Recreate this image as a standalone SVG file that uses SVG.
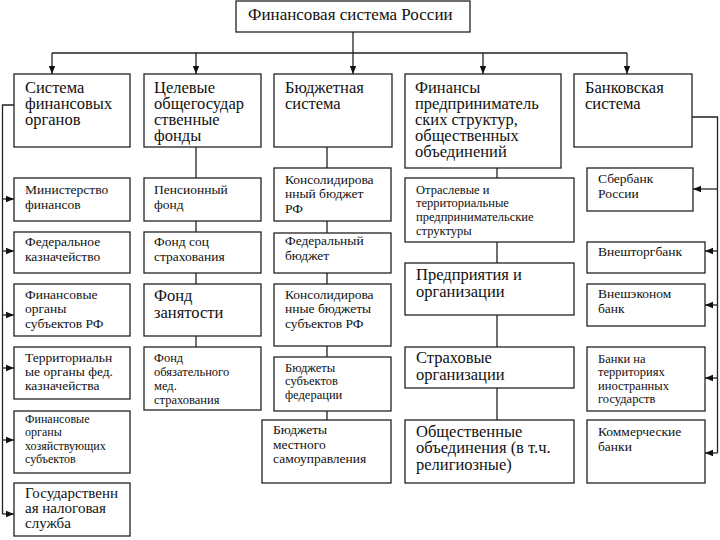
<svg xmlns="http://www.w3.org/2000/svg" width="720" height="540" viewBox="0 0 720 540">
<defs>
<marker id="ah" viewBox="0 0 10 10" refX="10" refY="5" markerWidth="8" markerHeight="8" markerUnits="userSpaceOnUse" orient="auto">
<path d="M0,1 L10,5 L0,9 Z" fill="#111"/>
</marker>
</defs>
<rect width="720" height="540" fill="#fff"/>
<g id="connectors" stroke="#222" stroke-width="1.3" fill="none">
<line x1="353" y1="32" x2="353" y2="53"/>
<line x1="52" y1="53" x2="627" y2="53"/>
<line marker-end="url(#ah)" x1="52" y1="53" x2="52" y2="74"/>
<line marker-end="url(#ah)" x1="196" y1="53" x2="196" y2="74"/>
<line marker-end="url(#ah)" x1="353" y1="53" x2="353" y2="74"/>
<line marker-end="url(#ah)" x1="483" y1="53" x2="483" y2="74"/>
<line marker-end="url(#ah)" x1="627" y1="53" x2="627" y2="74"/>
<path d="M14,105 H2.5 V514"/>
<line marker-end="url(#ah)" x1="2.5" y1="199" x2="14" y2="199"/>
<line marker-end="url(#ah)" x1="2.5" y1="251" x2="14" y2="251"/>
<line marker-end="url(#ah)" x1="2.5" y1="315" x2="14" y2="315"/>
<line marker-end="url(#ah)" x1="2.5" y1="368" x2="14" y2="368"/>
<line marker-end="url(#ah)" x1="2.5" y1="440" x2="14" y2="440"/>
<line marker-end="url(#ah)" x1="2.5" y1="514" x2="14" y2="514"/>
<line x1="196" y1="147" x2="196" y2="347"/>
<line x1="327" y1="147" x2="327" y2="420"/>
<line x1="497" y1="168" x2="497" y2="420"/>
<path d="M692,117 H717.5 V453"/>
<line marker-end="url(#ah)" x1="717.5" y1="189" x2="693" y2="189"/>
<line marker-end="url(#ah)" x1="717.5" y1="251" x2="705" y2="251"/>
<line marker-end="url(#ah)" x1="717.5" y1="305" x2="705" y2="305"/>
<line marker-end="url(#ah)" x1="717.5" y1="378" x2="705" y2="378"/>
<line marker-end="url(#ah)" x1="717.5" y1="453" x2="705" y2="453"/>
</g>
<g id="nodes" fill="#111">
<g id="root" font-size="17"><rect x="236" y="1" width="234" height="31" fill="#fff" stroke="#222" stroke-width="1.3"/><text font-family="Liberation Serif" x="248" y="20">Финансовая система России</text></g>
<g id="n1" font-size="16.5"><rect x="14" y="74" width="116" height="73" fill="#fff" stroke="#222" stroke-width="1.3"/><text font-family="Liberation Serif" x="25" y="93">Система</text><text font-family="Liberation Serif" x="25" y="109">финансовых</text><text font-family="Liberation Serif" x="25" y="125">органов</text></g>
<g id="n2" font-size="16.5"><rect x="144" y="74" width="117" height="73" fill="#fff" stroke="#222" stroke-width="1.3"/><text font-family="Liberation Serif" x="154" y="93">Целевые</text><text font-family="Liberation Serif" x="154" y="109">общегосудар</text><text font-family="Liberation Serif" x="154" y="125">ственные</text><text font-family="Liberation Serif" x="154" y="141">фонды</text></g>
<g id="n3" font-size="16.5"><rect x="274" y="74" width="118" height="73" fill="#fff" stroke="#222" stroke-width="1.3"/><text font-family="Liberation Serif" x="285" y="93">Бюджетная</text><text font-family="Liberation Serif" x="285" y="109">система</text></g>
<g id="n4" font-size="16.5"><rect x="405" y="74" width="156" height="94" fill="#fff" stroke="#222" stroke-width="1.3"/><text font-family="Liberation Serif" x="415" y="93">Финансы</text><text font-family="Liberation Serif" x="415" y="109">предприниматель</text><text font-family="Liberation Serif" x="415" y="125">ских структур,</text><text font-family="Liberation Serif" x="415" y="141">общественных</text><text font-family="Liberation Serif" x="415" y="157">объединений</text></g>
<g id="n5" font-size="16.5"><rect x="574" y="74" width="118" height="73" fill="#fff" stroke="#222" stroke-width="1.3"/><text font-family="Liberation Serif" x="585" y="93">Банковская</text><text font-family="Liberation Serif" x="585" y="109">система</text></g>

<g id="a1" font-size="13.5"><rect x="14" y="178" width="116" height="43" fill="#fff" stroke="#222" stroke-width="1.3"/><text font-family="Liberation Serif" x="25" y="194">Министерство</text><text font-family="Liberation Serif" x="25" y="209">финансов</text></g>
<g id="a2" font-size="13.5"><rect x="14" y="232" width="116" height="41" fill="#fff" stroke="#222" stroke-width="1.3"/><text font-family="Liberation Serif" x="25" y="246">Федеральное</text><text font-family="Liberation Serif" x="25" y="261">казначейство</text></g>
<g id="a3" font-size="13.5"><rect x="14" y="284" width="116" height="52" fill="#fff" stroke="#222" stroke-width="1.3"/><text font-family="Liberation Serif" x="25" y="299">Финансовые</text><text font-family="Liberation Serif" x="25" y="313">органы</text><text font-family="Liberation Serif" x="25" y="328">субъектов РФ</text></g>
<g id="a4" font-size="13.5"><rect x="14" y="347" width="116" height="52" fill="#fff" stroke="#222" stroke-width="1.3"/><text font-family="Liberation Serif" x="25" y="362">Территориальн</text><text font-family="Liberation Serif" x="25" y="376">ые органы фед.</text><text font-family="Liberation Serif" x="25" y="390">казначейства</text></g>
<g id="a5" font-size="12"><rect x="14" y="411" width="116" height="62" fill="#fff" stroke="#222" stroke-width="1.3"/><text font-family="Liberation Serif" x="25" y="423">Финансовые</text><text font-family="Liberation Serif" x="25" y="436">органы</text><text font-family="Liberation Serif" x="25" y="450">хозяйствующих</text><text font-family="Liberation Serif" x="25" y="463">субъектов</text></g>
<g id="a6" font-size="15"><rect x="14" y="483" width="116" height="53" fill="#fff" stroke="#222" stroke-width="1.3"/><text font-family="Liberation Serif" x="25" y="498">Государственн</text><text font-family="Liberation Serif" x="25" y="513">ая налоговая</text><text font-family="Liberation Serif" x="25" y="528">служба</text></g>

<g id="b1" font-size="13.5"><rect x="144" y="178" width="117" height="43" fill="#fff" stroke="#222" stroke-width="1.3"/><text font-family="Liberation Serif" x="154" y="194">Пенсионный</text><text font-family="Liberation Serif" x="154" y="209">фонд</text></g>
<g id="b2" font-size="13.5"><rect x="144" y="232" width="117" height="41" fill="#fff" stroke="#222" stroke-width="1.3"/><text font-family="Liberation Serif" x="154" y="246">Фонд соц</text><text font-family="Liberation Serif" x="154" y="261">страхования</text></g>
<g id="b3" font-size="16.5"><rect x="144" y="284" width="117" height="52" fill="#fff" stroke="#222" stroke-width="1.3"/><text font-family="Liberation Serif" x="154" y="301">Фонд</text><text font-family="Liberation Serif" x="154" y="318">занятости</text></g>
<g id="b4" font-size="12.5"><rect x="144" y="347" width="117" height="63" fill="#fff" stroke="#222" stroke-width="1.3"/><text font-family="Liberation Serif" x="154" y="362">Фонд</text><text font-family="Liberation Serif" x="154" y="376">обязательного</text><text font-family="Liberation Serif" x="154" y="390">мед.</text><text font-family="Liberation Serif" x="154" y="404">страхования</text></g>

<g id="c1" font-size="13.5"><rect x="274" y="168" width="117" height="53" fill="#fff" stroke="#222" stroke-width="1.3"/><text font-family="Liberation Serif" x="285" y="184">Консолидирова</text><text font-family="Liberation Serif" x="285" y="198">нный бюджет</text><text font-family="Liberation Serif" x="285" y="213">РФ</text></g>
<g id="c2" font-size="13.5"><rect x="274" y="233" width="117" height="40" fill="#fff" stroke="#222" stroke-width="1.3"/><text font-family="Liberation Serif" x="285" y="245">Федеральный</text><text font-family="Liberation Serif" x="285" y="260">бюджет</text></g>
<g id="c3" font-size="13.5"><rect x="274" y="284" width="117" height="62" fill="#fff" stroke="#222" stroke-width="1.3"/><text font-family="Liberation Serif" x="285" y="299">Консолидирова</text><text font-family="Liberation Serif" x="285" y="313">нные бюджеты</text><text font-family="Liberation Serif" x="285" y="328">субъектов РФ</text></g>
<g id="c4" font-size="12.5"><rect x="274" y="357" width="117" height="54" fill="#fff" stroke="#222" stroke-width="1.3"/><text font-family="Liberation Serif" x="285" y="372">Бюджеты</text><text font-family="Liberation Serif" x="285" y="385">субъектов</text><text font-family="Liberation Serif" x="285" y="399">федерации</text></g>
<g id="c5" font-size="13.5"><rect x="262" y="420" width="129" height="63" fill="#fff" stroke="#222" stroke-width="1.3"/><text font-family="Liberation Serif" x="273" y="434">Бюджеты</text><text font-family="Liberation Serif" x="273" y="449">местного</text><text font-family="Liberation Serif" x="273" y="463">самоуправления</text></g>

<g id="d1" font-size="12.5"><rect x="405" y="178" width="169" height="64" fill="#fff" stroke="#222" stroke-width="1.3"/><text font-family="Liberation Serif" x="416" y="194">Отраслевые и</text><text font-family="Liberation Serif" x="416" y="207">территориальные</text><text font-family="Liberation Serif" x="416" y="221">предпринимательские</text><text font-family="Liberation Serif" x="416" y="235">структуры</text></g>
<g id="d2" font-size="16.5"><rect x="405" y="263" width="169" height="52" fill="#fff" stroke="#222" stroke-width="1.3"/><text font-family="Liberation Serif" x="416" y="280">Предприятия и</text><text font-family="Liberation Serif" x="416" y="297">организации</text></g>
<g id="d3" font-size="16.5"><rect x="405" y="347" width="169" height="41" fill="#fff" stroke="#222" stroke-width="1.3"/><text font-family="Liberation Serif" x="416" y="363">Страховые</text><text font-family="Liberation Serif" x="416" y="380">организации</text></g>
<g id="d4" font-size="16.5"><rect x="405" y="420" width="169" height="63" fill="#fff" stroke="#222" stroke-width="1.3"/><text font-family="Liberation Serif" x="416" y="437">Общественные</text><text font-family="Liberation Serif" x="416" y="453">объединения (в т.ч.</text><text font-family="Liberation Serif" x="416" y="470">религиозные)</text></g>

<g id="e1" font-size="13.5"><rect x="587" y="168" width="106" height="43" fill="#fff" stroke="#222" stroke-width="1.3"/><text font-family="Liberation Serif" x="598" y="183">Сбербанк</text><text font-family="Liberation Serif" x="598" y="198">России</text></g>
<g id="e2" font-size="13.5"><rect x="587" y="242" width="118" height="31" fill="#fff" stroke="#222" stroke-width="1.3"/><text font-family="Liberation Serif" x="598" y="256">Внешторгбанк</text></g>
<g id="e3" font-size="13.5"><rect x="587" y="284" width="118" height="42" fill="#fff" stroke="#222" stroke-width="1.3"/><text font-family="Liberation Serif" x="598" y="298">Внешэконом</text><text font-family="Liberation Serif" x="598" y="313">банк</text></g>
<g id="e4" font-size="12.5"><rect x="587" y="347" width="118" height="64" fill="#fff" stroke="#222" stroke-width="1.3"/><text font-family="Liberation Serif" x="598" y="363">Банки на</text><text font-family="Liberation Serif" x="598" y="376">территориях</text><text font-family="Liberation Serif" x="598" y="390">иностранных</text><text font-family="Liberation Serif" x="598" y="403">государств</text></g>
<g id="e5" font-size="13.5"><rect x="587" y="420" width="118" height="63" fill="#fff" stroke="#222" stroke-width="1.3"/><text font-family="Liberation Serif" x="598" y="436">Коммерческие</text><text font-family="Liberation Serif" x="598" y="451">банки</text></g>
</g>
</svg>
